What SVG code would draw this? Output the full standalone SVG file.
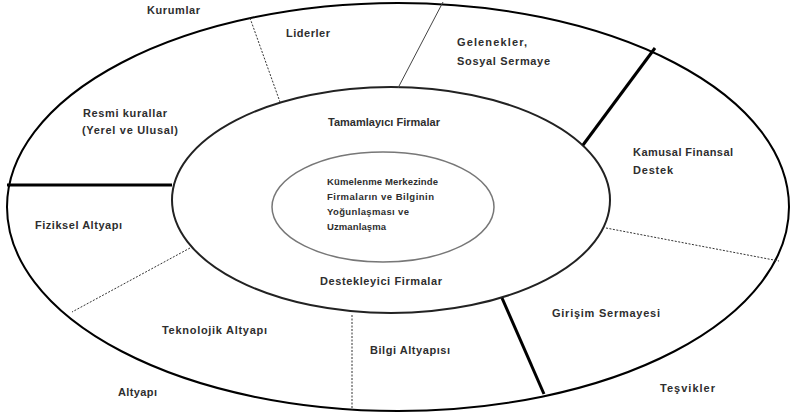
<svg xmlns="http://www.w3.org/2000/svg" width="792" height="413" viewBox="0 0 792 413">
<style>
.t{font-family:"Liberation Sans",Arial,sans-serif;font-size:11px;font-weight:bold;fill:#2e2e2e}
.s{font-size:9.5px}
.dot{stroke:#333;stroke-width:1;stroke-dasharray:2 1.5;fill:none}
.thick{stroke:#000;stroke-width:3;fill:none}
</style>
<rect width="792" height="413" fill="#fff"/>
<g id="outer-ring">
<ellipse cx="398" cy="207" rx="391" ry="204" fill="none" stroke="#000" stroke-width="2"/>
</g>
<g id="middle-ring">
<ellipse cx="391" cy="200" rx="219" ry="113" fill="none" stroke="#222" stroke-width="2"/>
</g>
<g id="inner-core">
<ellipse cx="383" cy="207" rx="111" ry="55" fill="none" stroke="#777" stroke-width="1.5"/>
</g>
<g id="connectors">
<line class="thick" x1="7" y1="185" x2="172" y2="185" stroke-width="4"/>
<line class="dot" x1="250" y1="18" x2="280" y2="102"/>
<line x1="443" y1="2" x2="398" y2="88" stroke="#444" stroke-width="1"/>
<line class="thick" x1="655" y1="48" x2="583" y2="145"/>
<line class="dot" x1="606" y1="228" x2="779" y2="261"/>
<line class="thick" x1="502" y1="298" x2="544" y2="394"/>
<line class="dot" x1="352" y1="315" x2="352" y2="410"/>
<line class="dot" x1="190" y1="248" x2="72" y2="312"/>
</g>
<g id="kurumlar"><text class="t" x="147" y="14" textLength="53" lengthAdjust="spacing">Kurumlar</text></g>
<g id="liderler"><text class="t" x="286" y="37" textLength="44" lengthAdjust="spacing">Liderler</text></g>
<g id="gelenekler"><text class="t" x="457" y="46" textLength="70" lengthAdjust="spacing">Gelenekler,</text><text class="t" x="457" y="65" textLength="93" lengthAdjust="spacing">Sosyal Sermaye</text></g>
<g id="resmi-kurallar"><text class="t" x="83" y="117" textLength="84" lengthAdjust="spacing">Resmi kurallar</text><text class="t" x="82" y="134" textLength="96" lengthAdjust="spacing">(Yerel ve Ulusal)</text></g>
<g id="tamamlayici"><text class="t" x="328" y="126" textLength="112" lengthAdjust="spacing">Tamamlayıcı Firmalar</text></g>
<g id="kamusal"><text class="t" x="633" y="156" textLength="100" lengthAdjust="spacing">Kamusal Finansal</text><text class="t" x="633" y="174" textLength="40" lengthAdjust="spacing">Destek</text></g>
<g id="merkez">
<text class="t s" x="327" y="185" textLength="111" lengthAdjust="spacing">Kümelenme Merkezinde</text>
<text class="t s" x="327" y="200" textLength="107" lengthAdjust="spacing">Firmaların ve Bilginin</text>
<text class="t s" x="327" y="215" textLength="82" lengthAdjust="spacing">Yoğunlaşması ve</text>
<text class="t s" x="327" y="230" textLength="59" lengthAdjust="spacing">Uzmanlaşma</text>
</g>
<g id="fiziksel"><text class="t" x="35" y="229" textLength="87" lengthAdjust="spacing">Fiziksel Altyapı</text></g>
<g id="destekleyici"><text class="t" x="320" y="285" textLength="122" lengthAdjust="spacing">Destekleyici Firmalar</text></g>
<g id="teknolojik"><text class="t" x="162" y="334" textLength="105" lengthAdjust="spacing">Teknolojik Altyapı</text></g>
<g id="altyapi"><text class="t" x="118" y="396" textLength="39" lengthAdjust="spacing">Altyapı</text></g>
<g id="bilgi"><text class="t" x="370" y="354" textLength="80" lengthAdjust="spacing">Bilgi Altyapısı</text></g>
<g id="girisim"><text class="t" x="552" y="317" textLength="108" lengthAdjust="spacing">Girişim Sermayesi</text></g>
<g id="tesvikler"><text class="t" x="660" y="392" textLength="55" lengthAdjust="spacing">Teşvikler</text></g>
</svg>
